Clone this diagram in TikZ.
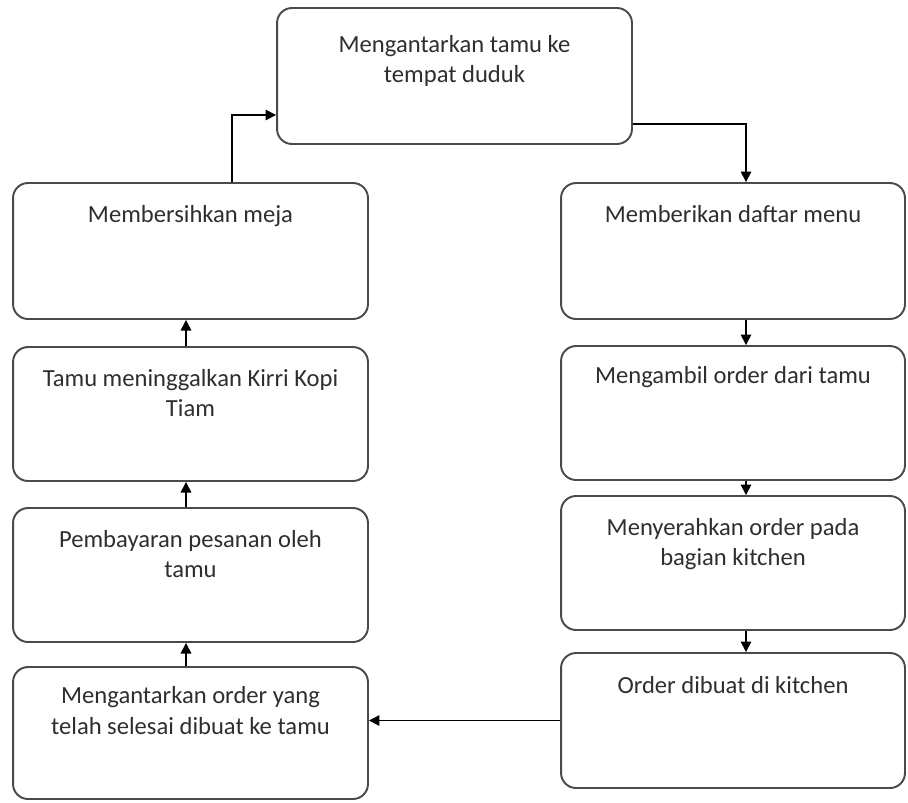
\documentclass[tikz,border=0pt]{standalone}
\usepackage{fontspec}
\setmainfont{Carlito}
\usetikzlibrary{arrows.meta, positioning}

\definecolor{boxgray}{HTML}{4A4A4A}
\definecolor{textgray}{HTML}{2E2E2E}
\newcommand{\boxtext}[4][0.35cm]{\parbox[c][#3][t]{#2}{\centering\vspace*{#1}\strut #4}}

\begin{document}
\begin{tikzpicture}[x=0.02cm, y=-0.02cm, >={Triangle[length=6pt, width=6pt]}, font=\fontsize{14}{17.5}\selectfont,
	stepbox/.style={draw=boxgray, line width=1.1pt, rounded corners=0.3cm, inner sep=0pt, text=textgray},
	flow/.style={->, line width=0.85pt}]

	\useasboundingbox (0,0) rectangle (908,802);

	\node[stepbox]	(seat)		at	(454.5, 76)	{\boxtext[0.45cm]{7.1cm}{2.72cm}{Mengantarkan tamu ke\\ tempat duduk}};
	\node[stepbox]	(clean)		at	(190.5, 251)	{\boxtext{7.1cm}{2.72cm}{Membersihkan meja}};
	\node[stepbox]	(leave)		at	(190.5, 414)	{\boxtext{7.1cm}{2.68cm}{Tamu meninggalkan Kirri Kopi\\ Tiam}};
	\node[stepbox]	(pay)		at	(190.5, 575)	{\boxtext{7.1cm}{2.68cm}{Pembayaran pesanan oleh\\ tamu}};
	\node[stepbox]	(deliver)	at	(190.5, 733)	{\boxtext[0.3cm]{7.1cm}{2.64cm}{Mengantarkan order yang\\ telah selesai dibuat ke tamu}};
	\node[stepbox]	(menu)		at	(733, 251)	{\boxtext{6.88cm}{2.72cm}{Memberikan daftar menu}};
	\node[stepbox]	(take)		at	(733, 413)	{\boxtext[0.32cm]{6.88cm}{2.68cm}{Mengambil order dari tamu}};
	\node[stepbox]	(hand)		at	(733, 563)	{\boxtext{6.88cm}{2.68cm}{Menyerahkan order pada\\ bagian kitchen}};
	\node[stepbox]	(cook)		at	(733, 720.5)	{\boxtext[0.37cm]{6.88cm}{2.7cm}{Order dibuat di kitchen}};

	\draw[flow]	([yshift=-0.96cm]seat.east)	-|	([xshift=0.26cm]menu.north);
	\draw[flow]	([xshift=0.26cm]menu.south)	--	([xshift=0.26cm]take.north);
	\draw[flow]	([xshift=0.26cm]take.south)	--	([xshift=0.26cm]hand.north);
	\draw[flow]	([xshift=0.26cm]hand.south)	--	([xshift=0.26cm]cook.north);
	\draw[flow]	(cook.west)	--	(cook.west -| deliver.east);
	\draw[flow]	([xshift=-0.09cm]deliver.north)	--	([xshift=-0.09cm]pay.south);
	\draw[flow]	([xshift=-0.09cm]pay.north)	--	([xshift=-0.09cm]leave.south);
	\draw[flow]	([xshift=-0.09cm]leave.north)	--	([xshift=-0.09cm]clean.south);
	\draw[flow]	([xshift=0.83cm]clean.north)	|-	([yshift=-0.78cm]seat.west);

\end{tikzpicture}
\end{document}
